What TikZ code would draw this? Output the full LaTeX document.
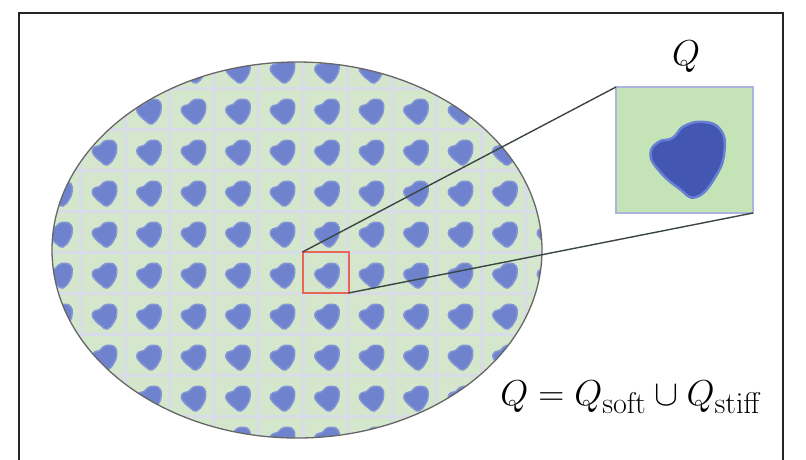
\documentclass[tikz,border=0pt]{standalone}
\usetikzlibrary{positioning}

\definecolor{cellgreen}{RGB}{212,231,204}
\definecolor{insetgreen}{RGB}{196,228,184}
\definecolor{cellline}{RGB}{216,220,232}
\definecolor{insetline}{RGB}{170,180,220}
\definecolor{blobmid}{RGB}{110,130,206}
\definecolor{blobdark}{RGB}{66,86,178}
\definecolor{blobrim}{RGB}{104,128,212}
\definecolor{zoomred}{RGB}{232,102,82}
\definecolor{linkgray}{RGB}{58,70,66}

\tikzset{
  blob/.pic={\path[pic actions] plot[smooth cycle, tension=0.8] coordinates {
      (-34,4) (-26,-8) (-12,-12) (0,-24) (20,-28) (36,-20) (40,0)
      (32,25) (12,47) (-6,38) (-26,20)};},
  smallblob/.style={fill=blobmid, draw=blobmid!85!white, line width=1.5},
  bigblob/.style={fill=blobdark, draw=blobrim, line width=2.5},
  zoombox/.style={draw=zoomred, line width=2, minimum width=46pt, minimum height=41pt, inner sep=0pt, outer sep=0pt},
  insetbox/.style={draw=insetline, fill=insetgreen, line width=2, minimum width=137pt, minimum height=126pt, inner sep=0pt, outer sep=0pt},
  link/.style={draw=linkgray, line width=1.4},
  bigmath/.style={font=\Huge, scale=1.45, text=black, inner sep=0pt}
}

\begin{document}
\begin{tikzpicture}[x=1pt, y=-1pt]
\useasboundingbox (0,0) rectangle (806,459);

% Rahmen
\draw[black!85, line width=2] (19,460) -- (19,13) -- (783,13) -- (783,460);

% Gebiet mit periodischen Zellen
\begin{scope}
  \clip (297,250) ellipse [x radius=245, y radius=188];
  \fill[cellgreen] (40,50) rectangle (560,450);
  \foreach \i in {-7,...,6}
    \draw[cellline, line width=3] ({303.25+44.5*\i},50) -- ++(0,400);
  \foreach \j in {-6,...,5}
    \draw[cellline, line width=3] (40,{252+41*\j}) -- ++(520,0);
  \foreach \i in {-6,...,5}
    \foreach \j in {-5,...,4}
      \pic[smallblob, scale=0.33] at ({326+44.5*\i},{272.5+41*\j}) {blob};
\end{scope}
\draw[black!60, line width=1.3] (297,250) ellipse [x radius=245, y radius=188];

% Vergroesserte Zelle
\node[zoombox] (zoom) at (325.5,272.5) {};
\node[insetbox] (cell) at (684.5,150) {};
\pic[bigblob] at (cell.center) {blob};
\node[bigmath, anchor=base] (qlabel) at (686,65) {$Q$};

% Verbindungslinien
\draw[link] (zoom.north west) -- (cell.north west);
\draw[link] (zoom.south east) -- (cell.south east);

% Zerlegung
\node[bigmath, anchor=base west] (qeq) at (500,405) {$Q=Q_{\mathrm{soft}}\cup Q_{\mathrm{stiff}}$};
\end{tikzpicture}
\end{document}
